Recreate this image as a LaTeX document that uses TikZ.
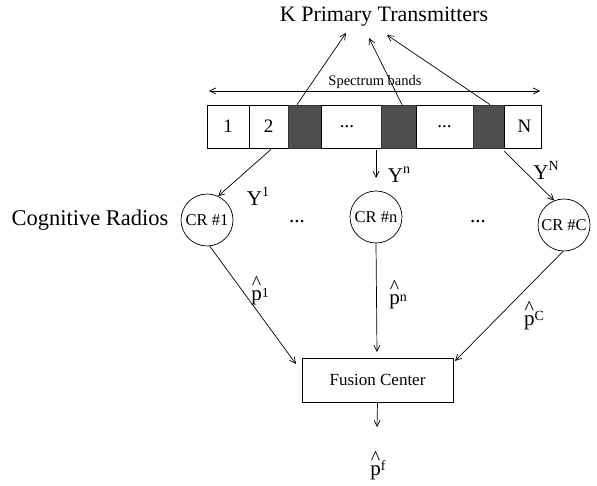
\documentclass[tikz,border=0pt]{standalone}
\usepackage{fontspec}
\setmainfont{Liberation Serif}
\usetikzlibrary{arrows.meta}
\definecolor{darkfill}{RGB}{78,78,78}
\definecolor{darkline}{RGB}{50,50,50}
\newcommand\hatp{\vbox{\offinterlineskip\halign{\hfil##\hfil\cr{\fontsize{20}{20}\selectfont\textasciicircum}\cr\noalign{\kern1pt}p\cr}}}
\newcommand\supx[2][3pt]{\raisebox{#1}{\fontsize{14}{14}\selectfont #2}}
\begin{document}
\begin{tikzpicture}[x=1pt,y=-1pt,line width=0.7pt,
  >={Straight Barb[length=6pt,width=6pt]},
  cell/.style={draw,minimum height=43pt,inner sep=0pt,font=\fontsize{19}{19}\selectfont},
  dark/.style={cell,fill=darkfill,draw=darkline},
  crnode/.style={draw,circle,minimum size=52pt,inner sep=0pt,font=\fontsize{16.5}{17}\selectfont},
  lbl/.style={inner sep=0pt,font=\fontsize{21}{22}\selectfont},
  small/.style={inner sep=0pt,font=\fontsize{14.5}{15}\selectfont},
  fbox/.style={draw,minimum width=151pt,minimum height=44pt,inner sep=0pt,font=\fontsize{17}{18}\selectfont}]
\useasboundingbox (0,0) rectangle (597,486);
% title
\node[lbl,font=\fontsize{22}{23}\selectfont] (t) at (384,17) {K Primary Transmitters};
\coordinate (ta) at (346,33);
\coordinate (tb) at (369,38);
\coordinate (tc) at (387,35);
% spectrum band arrow
\coordinate (sbL) at (209,91);
\coordinate (sbR) at (540,91);
\draw[<->] (sbL) -- (sbR);
\node[small] (sb) at (375,82) {Spectrum bands};
% bar cells
\node[cell,minimum width=42pt] (c1) at (228,126.5) {1};
\node[cell,minimum width=39pt] (c2) at (268.5,126.5) {2};
\node[dark,minimum width=33pt] (d1) at (304.5,126.5) {};
\node[cell,minimum width=60pt] (e1) at (351,126.5) {\hspace*{-8pt}...};
\node[dark,minimum width=35pt] (d2) at (398.5,126.5) {};
\node[cell,minimum width=57pt] (e2) at (444.5,126.5) {...};
\node[dark,minimum width=31pt] (d3) at (488.5,126.5) {};
\node[cell,minimum width=37pt] (cN) at (522.5,126.5) {\hspace*{4pt}N};
% arrows to transmitters
\draw[->] ([xshift=-7.5pt]d1.north) -- (ta);
\draw[->] ([xshift=3.5pt]d2.north) -- (tb);
\draw[->] ([xshift=1.5pt]d3.north) -- (tc);
% cognitive radios
\node[lbl,font=\fontsize{22.5}{23}\selectfont] (cog) at (90,220) {Cognitive Radios};
\node[crnode] (cr1) at (207,220) {CR \#1};
\node[crnode] (crn) at (376,217) {CR \#n};
\node[crnode] (crC) at (564,225) {CR \#C};
\node[lbl] (dots1) at (297,222) {...};
\node[lbl] (dots2) at (478,222) {...};
% Y arrows
\coordinate (yn) at (376,178);
\draw[->] ([xshift=2.5pt,yshift=-1pt]c2.south) -- (cr1.65);
\draw[->] ([xshift=25pt,yshift=-2pt]e1.south) -- (yn);
\draw[->] ([yshift=-3pt]d3.south east) -- (crC.112);
\node[lbl] (y1) at (258,196) {Y\supx[9pt]{1}};
\node[lbl] (ynl) at (399,175) {Y\supx[9pt]{n}};
\node[lbl] (yNl) at (546,170) {Y\supx[9pt]{N}};
% fusion center
\node[fbox] (fc) at (377.5,380) {\raisebox{-4pt}{Fusion Center}};
\coordinate (f1) at (296,364);
\coordinate (fn) at (377,352);
\coordinate (fC) at (455,361);
\coordinate (fo) at (377,427);
\draw[->] (cr1.-84) -- (f1);
\draw[->] (crn.south) -- (fn);
\draw[->] (crC.-92) -- (fC);
\draw[->] (fc.south) -- (fo);
\node[lbl] (p1) at (260,291) {\hatp\supx{1}};
\node[lbl] (pn) at (398,295) {\hatp\supx{n}};
\node[lbl] (pC) at (534,316) {\hatp\supx[5pt]{C}};
\node[lbl] (pf) at (378,466) {\hatp\supx[5pt]{f}};
\end{tikzpicture}
\end{document}
